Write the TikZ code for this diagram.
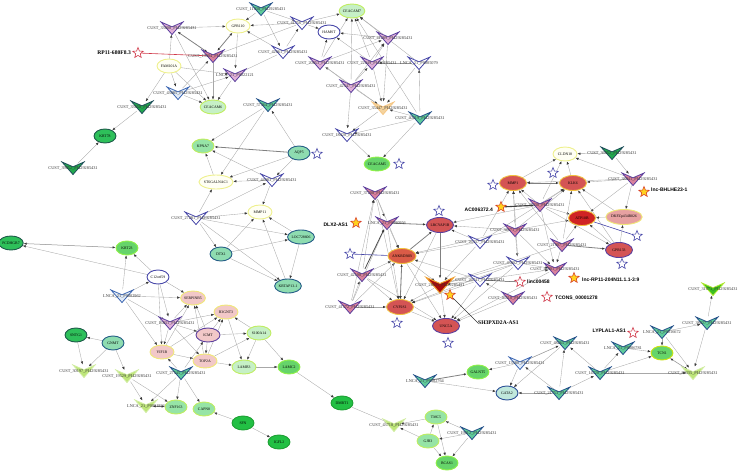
\documentclass[tikz,border=0pt]{standalone}
\usepackage{fontspec}
\setmainfont{Liberation Serif}
\setsansfont{Liberation Sans}
\usetikzlibrary{shapes.geometric,arrows.meta}
\pgfdeclarelayer{bg}
\pgfsetlayers{bg,main}
\definecolor{lgray}{HTML}{A8A8A8}
\definecolor{tipc}{HTML}{3A3A3A}
\definecolor{vpur}{HTML}{5B3F9E}
\definecolor{lav}{HTML}{E0B0D8}
\definecolor{rose}{HTML}{D9819D}
\definecolor{blueo}{HTML}{4646A8}
\definecolor{lblue}{HTML}{E2ECF8}
\definecolor{lbluebd}{HTML}{3C66B2}
\definecolor{vtealc}{HTML}{5FCB9B}
\definecolor{tealbd}{HTML}{24508A}
\definecolor{dgreen}{HTML}{22A84E}
\definecolor{dgreenbd}{HTML}{1E4E5A}
\definecolor{ygreen}{HTML}{BEE67A}
\definecolor{peach}{HTML}{F5D49E}
\definecolor{dred}{HTML}{A80C0C}
\definecolor{orangebd}{HTML}{F0A030}
\definecolor{bgreen}{HTML}{3CC020}
\definecolor{bgreenbd}{HTML}{B0E830}
\definecolor{redf}{HTML}{D45454}
\definecolor{redbd}{HTML}{F0C040}
\definecolor{atpf}{HTML}{D02424}
\definecolor{pinkf}{HTML}{F2C8C8}
\definecolor{ybd}{HTML}{F0E878}
\definecolor{palef}{HTML}{FFFFF4}
\definecolor{palebd}{HTML}{EEF08C}
\definecolor{lgreenf}{HTML}{C6F0C6}
\definecolor{gmid}{HTML}{96E4A6}
\definecolor{gbright}{HTML}{66D46A}
\definecolor{gdark}{HTML}{2EC05A}
\definecolor{gdarkbd}{HTML}{1E5A4A}
\definecolor{gvdark}{HTML}{22C044}
\definecolor{gvdarkbd}{HTML}{1EA034}
\definecolor{gtealf}{HTML}{8EDCB0}
\definecolor{gtealbd}{HTML}{245C86}
\definecolor{gataf}{HTML}{C0E8DC}
\definecolor{gatabd}{HTML}{2A4E96}
\definecolor{starred}{HTML}{D03848}
\definecolor{staryel}{HTML}{FFD21E}
\definecolor{staryelbd}{HTML}{D8402A}
\tikzset{
  vanch/.style={circle,minimum size=13pt,inner sep=0pt},
  vlab/.style={font=\fontsize{4.3}{5}\selectfont,text=black!80,inner sep=0pt},
  vbase/.style={line width=0.8pt,line join=miter},
  vlav/.style={vbase,fill=lav,draw=vpur},
  vrose/.style={vbase,fill=rose,draw=vpur},
  vout/.style={vbase,fill=white,draw=blueo},
  vlb/.style={vbase,fill=lblue,draw=lbluebd},
  vteal/.style={vbase,fill=vtealc,draw=tealbd},
  vdg/.style={vbase,fill=dgreen,draw=dgreenbd},
  vyg/.style={vbase,fill=ygreen,draw=ygreen!70!white},
  vpeach/.style={vbase,fill=peach,draw=peach!85!orange},
  vdred/.style={vbase,fill=dred,draw=orangebd,line width=1pt},
  vbg/.style={vbase,fill=bgreen,draw=bgreenbd},
  gene/.style={ellipse,inner sep=0pt,minimum width=22pt,minimum height=14pt,line width=0.9pt,font=\fontsize{3.8}{4}\selectfont},
  gbig/.style={gene,minimum width=27pt,minimum height=15pt},
  gred/.style={gbig,fill=redf,draw=redbd},
  gredp/.style={gbig,fill=redf,draw=vpur},
  gpink/.style={gene,minimum width=24pt,fill=pinkf,draw=ybd},
  gpale/.style={gene,minimum width=24pt,fill=palef,draw=palebd},
  gwhite/.style={gene,fill=white,draw=blueo},
  glg/.style={gene,minimum width=24pt,fill=lgreenf,draw=ybd!80!green},
  gmd/.style={gene,fill=gmid,draw=ybd!80!green},
  gbr/.style={gene,fill=gbright,draw=ybd!60!green},
  gdk/.style={gene,fill=gdark,draw=gdarkbd},
  gvd/.style={gene,fill=gvdark,draw=gvdarkbd},
  gtl/.style={gene,fill=gtealf,draw=gtealbd},
  stb/.style={star,star points=5,star point ratio=2.3,minimum size=11pt,inner sep=0pt,line width=0.6pt,draw=blueo,fill=white},
  str/.style={stb,draw=starred},
  sty/.style={stb,fill=staryel,draw=staryelbd},
  slab/.style={font=\sffamily\bfseries\fontsize{5}{6}\selectfont,inner sep=0pt},
  slabs/.style={font=\rmfamily\bfseries\fontsize{5.6}{6}\selectfont,inner sep=0pt},
  e/.style={draw=lgray,line width=0.35pt,->},
  ebl/.style={draw=black!45,line width=0.5pt,<->},
  et/.style={draw=black!50,line width=0.8pt,->},
  eb/.style={draw=black!50,line width=0.8pt,<->},
}
\newcommand{\cu}[1]{CUST\_#1\_PI429285431}
\newcommand{\lnc}[1]{LNCA\_21\_P#1}
\newcommand{\vnode}[5][1]{%
  \node[vanch] (#2) at (#3) {};
  \path[#4] ([shift={(-11*#1,-6*#1)}]#2.center) -- ([shift={(0,-1.2*#1)}]#2.center) -- ([shift={(11*#1,-6*#1)}]#2.center) -- ([shift={(0,6.5*#1)}]#2.center) -- cycle;
  \node[vlab] (#2l) at ([yshift=-0.6pt]#2.center) {#5};}
\begin{document}
\begin{tikzpicture}[x=1pt,y=-1pt,>={Latex[length=3pt,width=2.4pt,color=tipc]}]
\useasboundingbox (0,0) rectangle (741,471);
% ---------- genes ----------
\node[gpale] (gpr110) at (238,26) {GPR110};
\node[gpale] (fam) at (169,66) {FAM101A};
\node[glg] (ceac6) at (213,107) {CEACAM6};
\node[gdk] (krt78) at (105,136) {KRT78};
\node[gmd] (kpna7) at (203,146) {KPNA7};
\node[glg] (ceac7) at (352,11) {CEACAM7};
\node[gwhite] (hamst) at (329,32) {HAMST};
\node[gtl] (aqp5) at (299,153) {AQP5};
\node[gpale,minimum width=26pt] (st6g) at (216,182) {ST6GALNAC1};
\node[gpale] (mmp11) at (260,212) {MMP11};
\node[gtl] (dtx1) at (221,254) {DTX1};
\node[gtl] (loc) at (301,237) {LOC728606};
\node[gtl] (krtap) at (288,286) {KRTAP13-1};
\node[gdk] (pcdh) at (11,243) {PCDHGB7};
\node[gbr] (krt23) at (127,248) {KRT23};
\node[gwhite] (c12) at (158,277) {C12orf59};
\node[gpink] (serp) at (193,298) {SERPINB5};
\node[gpink] (b3g) at (226,312) {B3GNT3};
\node[gpink,draw=vpur] (icmt) at (208,335) {ICMT};
\node[glg] (s100) at (259,333) {S100A14};
\node[gpink] (yif) at (162,352) {YIF1B};
\node[gpink] (top2a) at (205,361) {TOP2A};
\node[glg] (lamb3) at (244,367) {LAMB3};
\node[gbr] (lamc2) at (289,367) {LAMC2};
\node[gdk] (sntg) at (76,335) {SNTG1};
\node[gtl] (gnmt) at (113,343) {GNMT};
\node[gmd] (znf) at (176,407) {ZNF163};
\node[gmd] (capn8) at (204,409) {CAPN8};
\node[gvd] (sfn) at (243,423) {SFN};
\node[gvd] (igfl2) at (279,442) {IGFL2};
\node[gvd] (dmbt1) at (342,403) {DMBT1};
\node[gmd] (tmc5) at (436,417) {TMC5};
\node[gmd] (gjb3) at (428,441) {GJB3};
\node[gbr] (bcas1) at (447,463) {BCAS1};
\node[gbr] (ceac5) at (377,164) {CEACAM5};
\node[gredp] (lrc) at (440,225) {LRCYAP1B};
\node[gred,fill=redf!85!orange] (ankrd) at (402,256) {ANKRD30B};
\node[gred] (cyp) at (400,307) {CYP2S1};
\node[gredp] (unc5a) at (446,326) {UNC5A};
\node[gpale] (cldn) at (565,154) {CLDN18};
\node[gred] (mmp1) at (513,183) {MMP1};
\node[gred] (klk6) at (573,183) {KLK6};
\node[gred,fill=atpf] (atp) at (582,218) {ATP10B};
\node[gbig,fill=redf!55!white,draw=ybd,minimum width=28pt] (dkfz) at (624,217) {DKFZp434B026};
\node[gredp] (gpr133) at (619,250) {GPR133};
\node[gbr] (galnt5) at (478,372) {GALNT5};
\node[gene,fill=gataf,draw=gatabd] (gata2) at (507,393) {GATA2};
\node[gbr,draw=yellow!80!green] (tcn1) at (662,353) {TCN1};
% ---------- lncRNA (V shapes) ----------
\vnode{cA}{172,28}{vlav}{\cu{33008}}
\vnode{cB}{213,56}{vrose}{\cu{19904}}
\vnode{lnA}{235,75}{vlav}{\lnc{0022121}}
\vnode{cC}{178,93}{vlb}{\cu{43085}}
\vnode{cD}{142,107}{vdg}{\cu{33658}}
\vnode{cE}{73,168}{vdg}{\cu{39052}}
\vnode{cF}{261,9}{vteal}{\cu{11038}}
\vnode{cG}{302,23}{vout}{\cu{41756}}
\vnode{cH}{388,38}{vlav}{\cu{41289}}
\vnode{cI}{283,52}{vout}{\cu{42061}}
\vnode{cJ}{320,63}{vlav}{\cu{20853}}
\vnode{cK}{372,63}{vlav}{\cu{22049}}
\vnode{lnB}{419,63}{vout}{\lnc{0005079}}
\vnode{cL}{351,86}{vlav}{\cu{42547}}
\vnode{cM}{383,108}{vpeach}{\cu{35447}}
\vnode{cN}{420,118}{vteal}{\cu{40219}}
\vnode{cO}{347,135}{vout}{\cu{18420}}
\vnode{cP}{268,105}{vteal}{\cu{57364}}
\vnode{cQ}{272,180}{vout}{\cu{44083}}
\vnode{cR}{196,218}{vout}{\cu{27281}}
\vnode{lnC}{122,296}{vlb}{\lnc{0002962}}
\vnode{cS}{170,323}{vlav}{\cu{16831}}
\vnode{cT}{84,371}{vyg}{\cu{30197}}
\vnode{cU}{127,376}{vyg}{\cu{19529}}
\vnode{cV}{181,373}{vteal}{\cu{27545}}
\vnode{lnD}{146,406}{vyg}{\lnc{0001894}}
\vnode{cW}{394,425}{vyg}{\cu{43718}}
\vnode{cX}{472,433}{vteal}{\cu{19012}}
\vnode{cY}{375,193}{vrose}{\cu{37208}}
\vnode{lnE}{387,223}{vrose}{\lnc{0000956}}
\vnode{cZ}{362,275}{vrose}{\cu{42198}}
\vnode{c41}{350,307}{vrose}{\cu{41572}}
\vnode[1.25]{bigV}{440,285}{vdred}{\cu{28611}}
\vnode{c36}{612,153}{vdg}{\cu{36052}}
\vnode{c38}{633,179}{vrose}{\cu{38841}}
\vnode{c2}{540,205}{vrose}{\cu{28330}}
\vnode{c3}{515,230}{vrose}{\cu{34671}}
\vnode{c21}{562,245}{vrose}{\cu{21907}}
\vnode{c43}{518,263}{vout}{\cu{43802}}
\vnode{c4}{555,269}{vrose}{\cu{43901}}
\vnode{c46}{513,298}{vrose}{\cu{46510}}
\vnode{c26a}{480,242}{vout}{\cu{26337}}
\vnode{c26b}{480,280}{vout}{\cu{26741}}
\vnode{lnF}{425,381}{vteal}{\lnc{0002764}}
\vnode{c13}{520,363}{vlb}{\cu{13580}}
\vnode{c48}{565,343}{vteal}{\cu{48265}}
\vnode{c21b}{559,393}{vteal}{\cu{21753}}
\vnode{c14}{600,373}{vteal}{\cu{14720}}
\vnode{lnG}{662,332}{vteal}{\lnc{0016672}}
\vnode{c38b}{707,323}{vteal}{\cu{38027}}
\vnode{lnH}{623,348}{vteal}{\lnc{0006781}}
\vnode{c83}{693,373}{vyg}{\cu{89335}}
\vnode{c310}{713,289}{vbg}{\cu{31071}}
% ---------- stars ----------
\node[str] (sRP) at (138,53) {};
\node[slabs,anchor=east] (lRP) at (131,53) {RP11-680F8.3};
\node[sty] (sDLX) at (356,223) {};
\node[slab,anchor=east] (lDLX) at (348,225) {DLX2-AS1};
\node[sty] (sAC) at (501,207) {};
\node[slab,anchor=east] (lAC) at (493,210) {AC006372.4};
\node[sty] (sBH) at (644,192) {};
\node[slab,anchor=west] (lBH) at (651,190) {lnc-BHLHE23-1};
\node[sty] (sSH) at (450,295) {};
\node[slabs,anchor=west] (lSH) at (478,323) {SH3PXD2A-AS1};
\node[sty] (sRPB) at (574,278) {};
\node[slab,anchor=west] (lRPB) at (582,280) {lnc-RP11-204N11.1.1-3:9};
\node[str] (sL) at (520,282) {};
\node[slab,anchor=west] (lL) at (527,282) {linc00458};
\node[str] (sT) at (547,297) {};
\node[slab,anchor=west] (lT) at (555,298) {TCONS\_00001278};
\node[str] (sLY) at (633,333) {};
\node[slab,anchor=east] (lLY) at (626,331) {LYPLAL1-AS1};
\node[stb] (bs1) at (317,154) {};
\node[stb] (bs2) at (399,164) {};
\node[stb] (bs3) at (439,211) {};
\node[stb] (bs4) at (350,254) {};
\node[stb] (bs5) at (397,323) {};
\node[stb] (bs6) at (448,343) {};
\node[stb] (bs7) at (553,173) {};
\node[stb] (bs8) at (493,185) {};
\node[stb] (bs9) at (637,236) {};
\node[stb] (bs10) at (622,264) {};
% ---------- edges ----------
\begin{pgfonlayer}{bg}
\foreach \a/\b in {cA/gpr110,cF/gpr110,cG/gpr110,cI/gpr110,cA/ceac6,fam/cA,cB/ceac6,lnA/ceac6,cC/ceac6,cC/lnA,cC/cB,fam/ceac6,fam/cC,fam/cD,cD/krt78,cE/krt78,cI/lnA,cG/cB,gpr110/lnA,fam/lnA,
 cF/cG,cF/cI,cG/ceac7,cG/hamst,cI/cG,cJ/ceac7,cK/ceac7,cH/ceac7,lnB/ceac7,cN/ceac7,cL/ceac7,cJ/hamst,cK/hamst,cH/hamst,cK/cH,cL/cH,cJ/cH,cL/cK,cL/cJ,cJ/cM,cK/cM,lnB/cM,cL/cM,cH/cM,cN/cM,cN/lnB,cN/cO,cM/cO,cL/cO,cO/ceac5,cN/ceac5,cP/kpna7,cP/st6g,aqp5/cP,lnB/cK,
 cQ/kpna7,cQ/st6g,aqp5/cQ,cR/st6g,cR/mmp11,cR/dtx1,cR/loc,cR/krtap,cR/cQ,dtx1/loc,dtx1/krtap,dtx1/mmp11,loc/krtap,loc/mmp11,cQ/mmp11,st6g/kpna7,aqp5/st6g,krtap/mmp11,
 c12/pcdh,c12/krt23,lnC/krt23,lnC/c12,lnC/serp,lnC/cS,lnC/yif,c12/serp,c12/yif,c12/cS,cS/serp,cS/b3g,cS/yif,cS/icmt,cS/top2a,icmt/b3g,icmt/serp,icmt/top2a,yif/top2a,yif/serp,yif/b3g,top2a/b3g,top2a/serp,s100/b3g,icmt/s100,s100/lamb3,s100/lamc2,lamb3/lamc2,cV/yif,cV/icmt,cV/znf,cV/capn8,cV/lnD,top2a/lamb3,b3g/lamb3,top2a/s100,gnmt/sntg,gnmt/cT,sntg/cT,gnmt/cU,cU/lnD,cU/znf,sfn/capn8,sfn/igfl2,lamc2/dmbt1,dmbt1/cW,tmc5/cW,gjb3/cW,gjb3/tmc5,gjb3/bcas1,tmc5/bcas1,cX/tmc5,cX/gjb3,cX/bcas1,
 cY/lnE,cY/ankrd,cY/cyp,c41/cY,cZ/cY,lnE/ankrd,c41/lnE,cZ/ankrd,cZ/cyp,c41/cZ,c41/ankrd,c41/cyp,ankrd/cyp,ankrd/unc5a,lrc/cyp,ankrd/bigV,bigV/unc5a,cyp/unc5a,cZ/unc5a,c26a/bigV,c26b/bigV,c26a/ankrd,c26b/ankrd,c26a/lrc,c26b/cyp,c26b/unc5a,c46/unc5a,c43/unc5a,bigV/cyp,lnE/cyp,c3/ankrd,c2/lrc,c43/cyp,c4/unc5a,c21/bigV,c3/lrc,c43/bigV,
 c36/cldn,c36/c38,mmp1/cldn,c2/cldn,c38/cldn,c38/klk6,c38/mmp1,c38/dkfz,c38/atp,c2/mmp1,c2/klk6,c2/atp,c2/gpr133,c3/mmp1,c3/klk6,c3/atp,c3/c43,c3/c4,c21/mmp1,c21/klk6,c21/atp,c21/c4,dkfz/atp,dkfz/klk6,gpr133/atp,gpr133/dkfz,gpr133/klk6,c43/c4,c2/c4,c43/mmp1,c26a/mmp1,c26a/klk6,c26b/c4,c46/c26b,klk6/cldn,
 lnF/gata2,c13/galnt5,c13/gata2,c48/gata2,c21b/c48,c21b/c13,c21b/gata2,c21b/c14,c14/c48,c14/lnH,c14/tcn1,c14/c83,lnH/tcn1,lnG/c38b,lnG/tcn1,lnG/c83,c38b/c83,c38b/c310}
  \draw[e] (\a) -- (\b);
\foreach \a/\b in {cA/cB,cB/gpr110,mmp1/klk6,cyp/ankrd,lnD/znf}
  \draw[eb] (\a) -- (\b);
\foreach \a/\b in {krt23/pcdh,c13/c48,tcn1/c83}
  \draw[ebl] (\a) -- (\b);
\foreach \a/\b in {aqp5/kpna7,lnE/lrc,ankrd/lrc,lrc/bigV,c21/gpr133,lnF/galnt5}
  \draw[et] (\a) -- (\b);
\draw[et,draw=black!70] (cZ) -- (lnE);
\draw[starred,line width=0.6pt] (sRP) -- (cB);
\draw[blueo,line width=0.6pt] (bs4) -- (ankrd);
\draw[blueo,line width=0.6pt] (atp) -- (bs9);
\draw[black!75,line width=1.1pt] (sAC) -- (c2);
\draw[black!80,line width=0.7pt] (sSH) -- (lSH.west);
\draw[black!70,line width=0.5pt] (c26b) -- (sL);
\end{pgfonlayer}
\end{tikzpicture}
\end{document}
